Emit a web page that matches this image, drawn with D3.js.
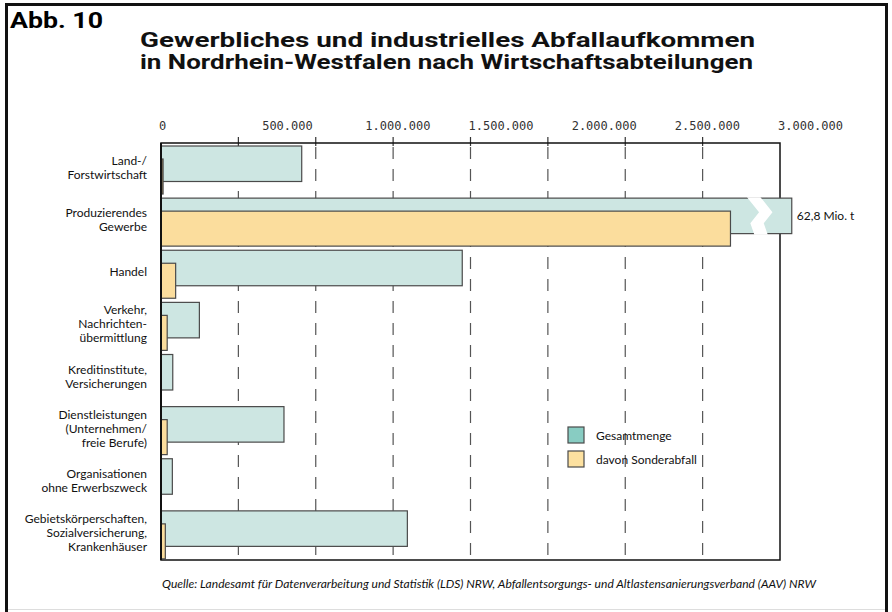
<!DOCTYPE html>
<html>
<head>
<meta charset="utf-8">
<script src="https://cdn.jsdelivr.net/npm/d3@7"></script>
<style>
  body { margin: 0; background: #fff; }
  svg { display: block; }
  .cat { font-family: Lato, "Noto Sans", sans-serif; font-size: 12px; fill: #111; }
  .tick-label { font-family: "DejaVu Sans Mono", "Liberation Mono", monospace; font-size: 12px; fill: #333; }
  .legend-text { font-family: Lato, "Noto Sans", sans-serif; font-size: 12px; fill: #111; }
</style>
</head>
<body>
<div id="chart"></div>
<script>
// data (tonnes)
const categories = [
  "Land-/|Forstwirtschaft",
  "Produzierendes|Gewerbe",
  "Handel",
  "Verkehr,|Nachrichten-|übermittlung",
  "Kreditinstitute,|Versicherungen",
  "Dienstleistungen|(Unternehmen/|freie Berufe)",
  "Organisationen|ohne Erwerbszweck",
  "Gebietskörperschaften,|Sozialversicherung,|Krankenhäuser"
];
const gesamtmenge = [682000, 62800000, 1460000, 186000, 57000, 596000, 55000, 1194000];
const sonderabfall = [10000, 2760000, 71000, 30000, 0, 30000, 0, 21000];
const tickValues = [0, 500000, 1000000, 1500000, 2000000, 2500000, 3000000];
const gridStep = 375000;
const seriesNames = ["Gesamtmenge", "davon Sonderabfall"];
const brokenLabel = "62,8 Mio. t";
const sourceText = "Quelle: Landesamt für Datenverarbeitung und Statistik (LDS) NRW, Abfallentsorgungs- und Altlastensanierungsverband (AAV) NRW";

const W = 892, H = 612;
const plot = {left: 161, right: 780, top: 143, bottom: 560};
const barCap = 3057000;          // where the off-scale bar is cut off
const breakFrom = 2840000, breakTo = 2905000;

const tealBar = "#cde6e2", yellowBar = "#fbdd9d";
const tealKey = "#88ccc2", yellowKey = "#fde1a0";
const edge = "#4a4a4a";

const svg = d3.select("#chart").append("svg")
  .attr("width", W)
  .attr("height", H);

// outer page frame
svg.append("line").attr("x1", 5).attr("x2", 888).attr("y1", 4.5).attr("y2", 4.5)
  .attr("stroke", "#111").attr("stroke-width", 3);
svg.append("line").attr("x1", 6.5).attr("x2", 6.5).attr("y1", 4).attr("y2", 612)
  .attr("stroke", "#111").attr("stroke-width", 3);
svg.append("line").attr("x1", 886.5).attr("x2", 886.5).attr("y1", 4).attr("y2", 612)
  .attr("stroke", "#111").attr("stroke-width", 3);
svg.append("line").attr("x1", 8).attr("x2", 885).attr("y1", 609.5).attr("y2", 609.5)
  .attr("stroke", "#ddd").attr("stroke-width", 1);

svg.append("text")
  .text("Abb. 10")
  .attr("x", 10).attr("y", 28)
  .attr("textLength", 93)
  .attr("lengthAdjust", "spacingAndGlyphs")
  .style("font-family", "Roboto, 'Open Sans', sans-serif")
  .style("font-weight", "bold")
  .style("font-size", "22px");

// title
const titleLines = ["Gewerbliches und industrielles Abfallaufkommen", "in Nordrhein-Westfalen nach Wirtschaftsabteilungen"];
svg.selectAll(".title")
  .data(titleLines)
  .enter().append("text")
    .attr("class", "title")
    .text(d => d)
    .attr("x", 140)
    .attr("y", (d, i) => 47 + i * 22)
    .attr("textLength", (d, i) => i === 0 ? 615 : 613)
    .attr("lengthAdjust", "spacingAndGlyphs")
    .style("font-family", "Roboto, 'Open Sans', sans-serif")
    .style("font-weight", "bold")
    .style("font-size", "21px")
    .style("fill", "#111");

// scales
const x = d3.scaleLinear().domain([0, 3000000]).range([plot.left, plot.right]);
const y = d3.scaleBand().domain(categories).range([plot.top, plot.bottom]);
const step = y.step();

// dashed grid + little ticks on top
const gridValues = d3.range(gridStep, 3000000, gridStep);
svg.selectAll(".grid")
  .data(gridValues)
  .enter().append("line")
    .attr("class", "grid")
    .attr("x1", d => x(d)).attr("x2", d => x(d))
    .attr("y1", plot.top + 4).attr("y2", plot.bottom)
    .attr("stroke", "#555").attr("stroke-width", 1.2)
    .attr("stroke-dasharray", "12,10");
svg.selectAll(".topTick")
  .data(gridValues)
  .enter().append("line")
    .attr("class", "topTick")
    .attr("x1", d => x(d)).attr("x2", d => x(d))
    .attr("y1", plot.top - 6).attr("y2", plot.top + 3)
    .attr("stroke", "#333").attr("stroke-width", 1.2);

// frame of plot
svg.append("rect")
  .attr("x", plot.left).attr("y", plot.top)
  .attr("width", plot.right - plot.left).attr("height", plot.bottom - plot.top)
  .attr("fill", "none").attr("stroke", "#111").attr("stroke-width", 1.5);

// tick labels (left-aligned at the value, as in the original)
svg.selectAll(".tick-label")
  .data(tickValues)
  .enter().append("text")
    .attr("class", "tick-label")
    .text(d => d3.format(",")(d).replace(/,/g, "."))
    .attr("x", d => x(d) - 2)
    .attr("y", 130);

// Gesamtmenge bars
svg.selectAll(".total")
  .data(categories)
  .enter().append("rect")
    .attr("class", "total")
    .attr("x", x(0))
    .attr("y", d => y(d) + 3)
    .attr("width", (d, i) => x(Math.min(gesamtmenge[i], barCap)) - x(0))
    .attr("height", 35.5)
    .attr("fill", tealBar)
    .attr("stroke", edge).attr("stroke-width", 1.2);

// break marker on the off-scale bar
categories.forEach(function(c, i) {
  if (gesamtmenge[i] <= barCap) return;
  const y0 = y(c) + 3, y1 = y0 + 35.5;
  const a = x(breakFrom), b = x(breakTo);
  const w = b - a;
  const pts = [
    [a, y0 - 1], [a + w * 0.9, y0 + 14], [a + w * 0.25, y0 + 25], [a + w * 0.55, y1 + 1],
    [b + w * 0.55, y1 + 1], [b + w * 0.25, y0 + 25], [b + w * 0.9, y0 + 14], [b, y0 - 1]
  ];
  svg.append("polygon")
    .attr("points", pts.map(p => p.join(",")).join(" "))
    .attr("fill", "#fff");
  svg.append("text")
    .attr("class", "legend-text")
    .text(brokenLabel)
    .attr("x", x(barCap) + 5)
    .attr("y", y(c) + 3 + 35.5 / 2 + 4);
});

// Sonderabfall bars
svg.selectAll(".special")
  .data(categories.filter((c, i) => sonderabfall[i] > 0))
  .enter().append("rect")
    .attr("class", "special")
    .attr("x", x(0))
    .attr("y", d => y(d) + 16)
    .attr("width", d => Math.max(x(sonderabfall[categories.indexOf(d)]) - x(0), 2))
    .attr("height", 35)
    .attr("fill", d => sonderabfall[categories.indexOf(d)] < 15000 ? "#8a7a55" : yellowBar)
    .attr("stroke", edge).attr("stroke-width", 1.2);

// left axis line
svg.append("line")
  .attr("x1", plot.left).attr("x2", plot.left)
  .attr("y1", plot.top).attr("y2", plot.bottom)
  .attr("stroke", "#111").attr("stroke-width", 2);

// category labels
const lineH = 14;
svg.selectAll(".cat")
  .data(categories)
  .enter().append("text")
    .attr("class", "cat")
    .attr("text-anchor", "end")
    .each(function(d) {
      const lines = d.split("|");
      const cy = y(d) + step / 2 - 1;
      const first = cy - (lines.length - 1) * lineH / 2 + 4;
      d3.select(this).selectAll("tspan")
        .data(lines)
        .enter().append("tspan")
          .attr("x", 147)
          .attr("y", (l, j) => first + j * lineH)
          .text(l => l);
    });

// legend
const legend = svg.selectAll(".legend")
  .data(seriesNames)
  .enter().append("g")
    .attr("class", "legend")
    .attr("transform", (d, i) => "translate(568," + (427 + i * 24) + ")");
legend.append("rect")
  .attr("width", 16).attr("height", 16)
  .attr("fill", (d, i) => i === 0 ? tealKey : yellowKey)
  .attr("stroke", edge).attr("stroke-width", 1.2);
legend.append("text")
  .attr("class", "legend-text")
  .text(d => d)
  .attr("x", 28).attr("y", 13);

// source
svg.append("text")
  .text(sourceText)
  .attr("x", 162).attr("y", 588)
  .attr("textLength", 654)
  .attr("lengthAdjust", "spacingAndGlyphs")
  .style("font-family", "Lato, 'Noto Sans', sans-serif")
  .style("font-style", "italic")
  .style("font-size", "11px")
  .style("fill", "#111");
</script>
</body>
</html>
